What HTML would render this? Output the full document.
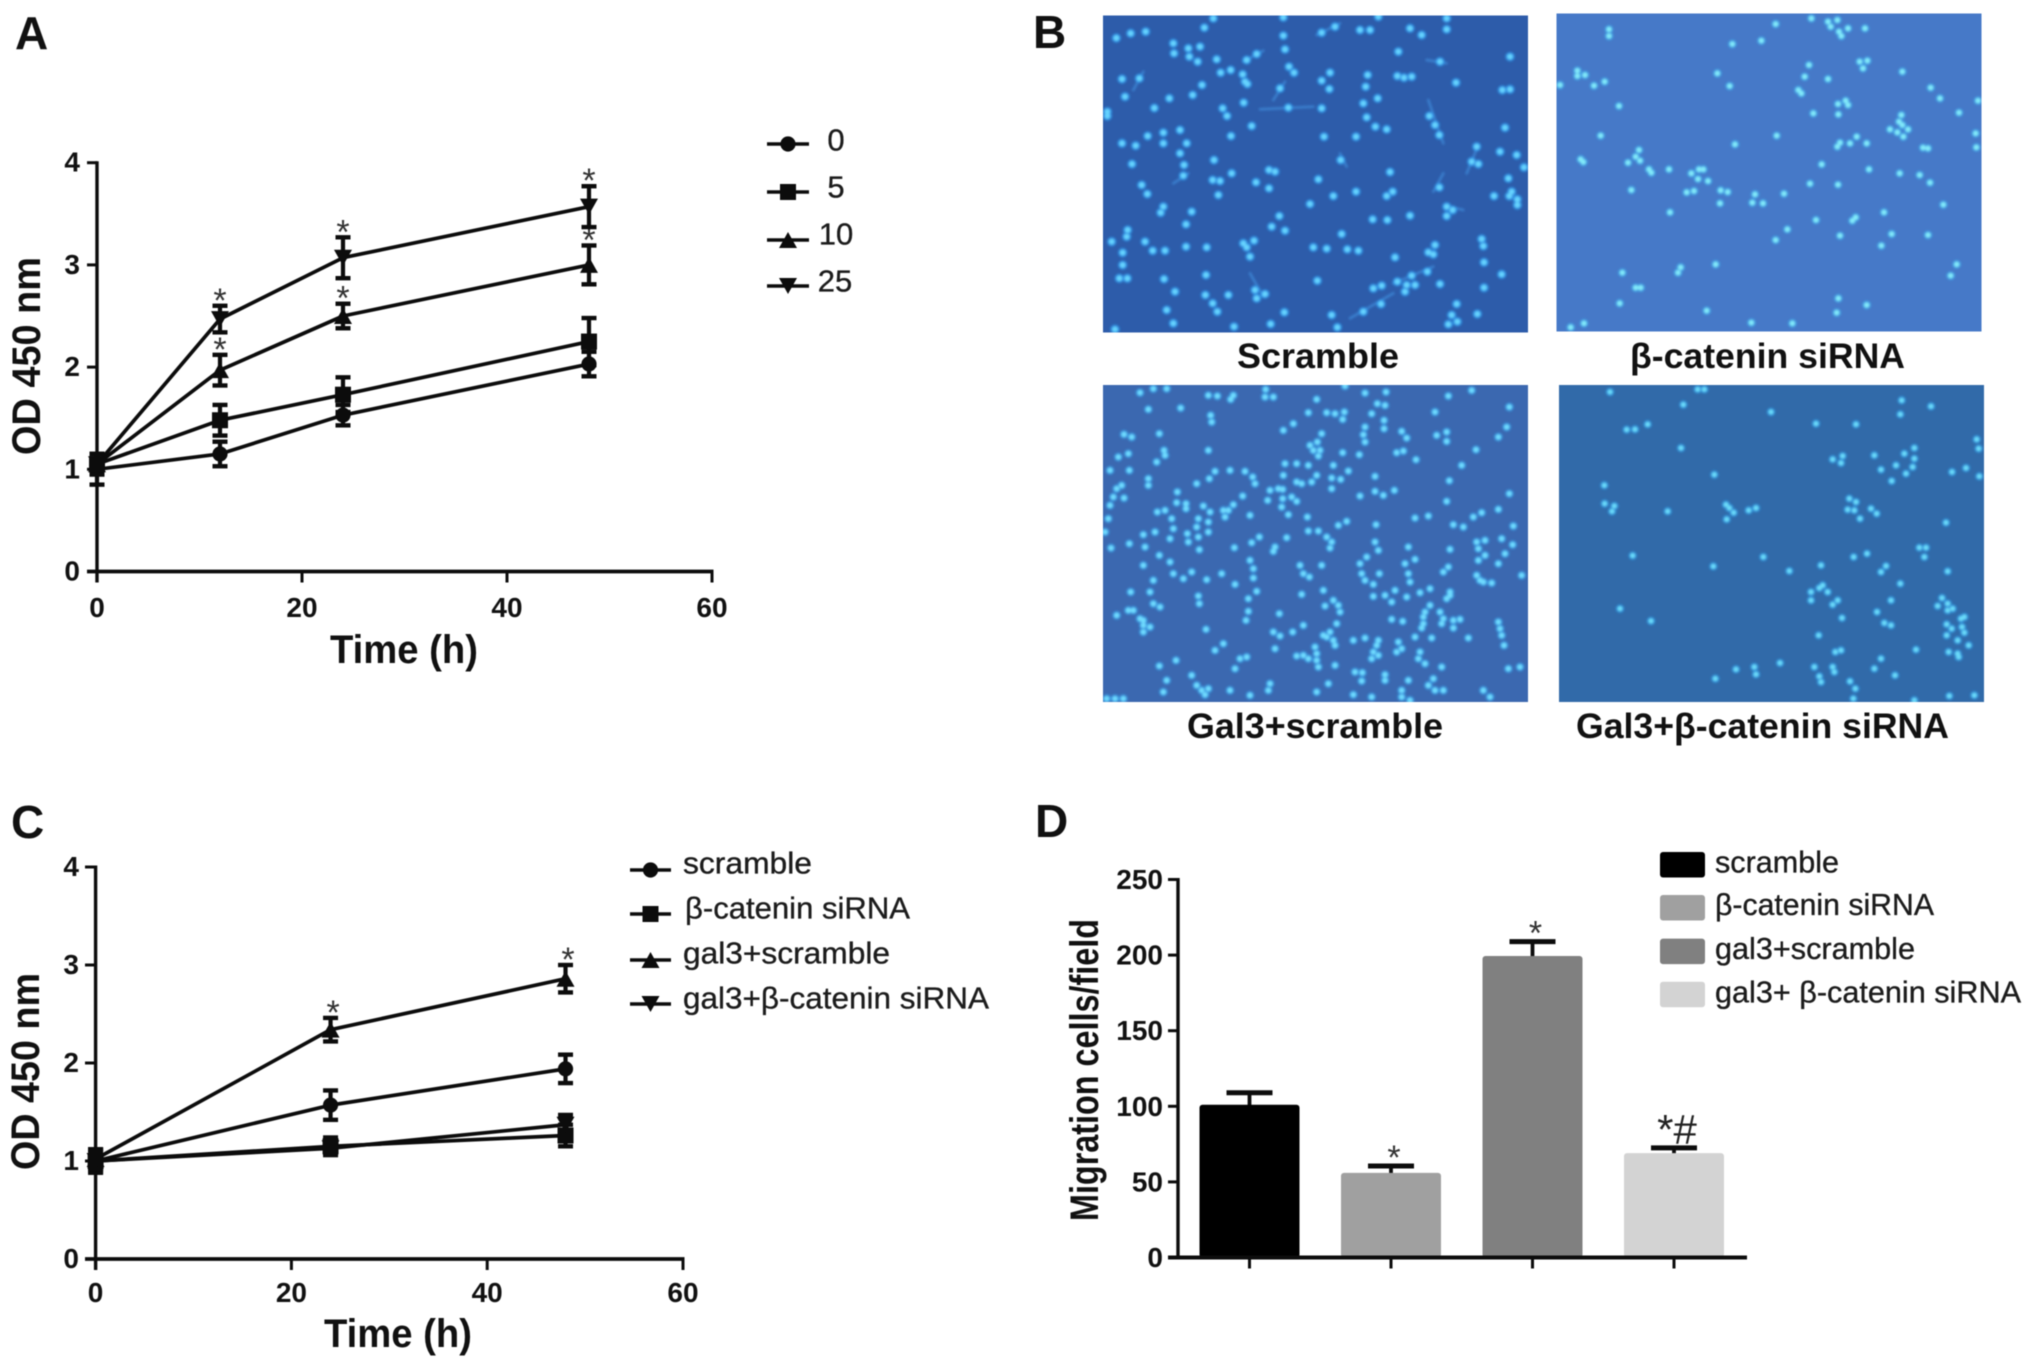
<!DOCTYPE html>
<html lang="en">
<head>
<meta charset="utf-8">
<title>Cell proliferation and migration figure</title>
<style>
html,body{margin:0;padding:0;background:#fff}
svg{display:block;filter:blur(0.6px)}
text{font-family:"Liberation Sans",sans-serif;fill:#111}
.b{font-weight:700}
.lg{font-size:31px;fill:#1c1c1c;stroke:#1c1c1c;stroke-width:.35px}
.cap{font-weight:700;font-size:35px}
.ttl{font-weight:700;font-size:40px}
.pl{font-weight:700;font-size:46px}
.tick{font-weight:700;font-size:28px}
.star{font-size:34px;fill:#333}
</style>
</head>
<body>
<svg id="fig" xmlns="http://www.w3.org/2000/svg" width="2031" height="1368" viewBox="0 0 2031 1368">
<defs>
<path id="d1" fill="none" stroke-linecap="round" d="M49 84h.1M92 70h.1M137 65h.1M313 53h.1M340 25h.1M550 22h.1M550 77h.1M555 118h.1M567 170h.1M582 188h.1M705 50h.1M665 68h.1M780 60h.1M810 60h.1M835 20h.1M1040 25h.1M1040 58h.1M965 75h.1M930 55h.1M220 100h.1M222 130h.1M265 115h.1M300 110h.1M268 140h.1M293 155h.1M350 148h.1M440 150h.1M470 132h.1M362 188h.1M392 180h.1M428 193h.1M435 215h.1M442 222h.1M66 207h.1M118 205h.1M75 260h.1M208 265h.1M278 255h.1M306 225h.1M163 294h.1M22 305h.1M22 318h.1M368 295h.1M381 318h.1M431 278h.1M540 235h.1M565 293h.1M665 295h.1M690 188h.1M665 212h.1M688 237h.1M803 195h.1M797 230h.1M790 280h.1M833 265h.1M895 125h.1M1020 155h.1M892 198h.1M912 203h.1M935 200h.1M1068 218h.1M1230 140h.1M1207 240h.1M1230 238h.1M988 318h.1M1005 345h.1M1018 375h.1M455 348h.1M393 378h.1M800 322h.1M826 350h.1M860 358h.1M1215 353h.1M672 380h.1M768 380h.1M143 378h.1M190 368h.1M190 400h.1M240 360h.1M260 400h.1M240 430h.1M252 465h.1M250 497h.1M66 400h.1M107 407h.1M96 462h.1M342 450h.1M338 510h.1M360 513h.1M395 490h.1M468 517h.1M507 480h.1M525 485h.1M507 535h.1M722 450h.1M655 508h.1M870 486h.1M1130 410h.1M1115 455h.1M1135 462h.1M1200 425h.1M1250 435h.1M1272 472h.1M1225 505h.1M1018 532h.1M125 525h.1M142 552h.1M355 555h.1M700 558h.1M768 545h.1M860 558h.1M878 545h.1M630 582h.1M1182 558h.1M1235 545h.1M1228 558h.1M1252 568h.1M1252 585h.1M1040 590h.1M1058 600h.1M1040 618h.1M930 617h.1M818 628h.1M862 630h.1M190 590h.1M182 608h.1M275 605h.1M258 643h.1M538 618h.1M515 650h.1M555 662h.1M83 660h.1M80 680h.1M35 695h.1M135 695h.1M158 722h.1M195 722h.1M68 728h.1M68 765h.1M258 710h.1M320 712h.1M430 700h.1M462 692h.1M440 712h.1M450 740h.1M640 712h.1M680 716h.1M725 672h.1M742 718h.1M775 722h.1M1005 705h.1M985 727h.1M1000 733h.1M885 742h.1M1145 687h.1M1150 708h.1M1152 757h.1M1205 793h.1M58 805h.1M82 805h.1M192 807h.1M318 795h.1M652 812h.1M225 845h.1M316 855h.1M338 880h.1M352 905h.1M385 855h.1M465 840h.1M470 865h.1M495 852h.1M982 785h.1M935 797h.1M892 815h.1M920 825h.1M945 825h.1M915 845h.1M845 827h.1M820 835h.1M1020 822h.1M1152 833h.1M200 900h.1M220 940h.1M512 942h.1M553 907h.1M695 915h.1M712 952h.1M790 905h.1M843 882h.1M1070 882h.1M1055 915h.1M1045 943h.1M1072 935h.1M1132 912h.1M402 950h.1M45 958h.1"/>
<path id="d2" fill="none" stroke-linecap="round" d="M165 58h.1M165 78h.1M665 42h.1M535 102h.1M622 92h.1M772 25h.1M822 35h.1M850 30h.1M830 50h.1M855 65h.1M862 78h.1M882 55h.1M933 55h.1M70 182h.1M70 198h.1M93 195h.1M18 225h.1M120 227h.1M152 215h.1M490 190h.1M527 228h.1M940 152h.1M917 155h.1M927 175h.1M765 165h.1M752 200h.1M822 207h.1M1045 185h.1M195 288h.1M733 240h.1M742 250h.1M852 282h.1M875 272h.1M882 285h.1M853 313h.1M778 310h.1M1130 233h.1M1158 265h.1M1215 308h.1M1272 272h.1M1042 315h.1M1035 335h.1M1045 345h.1M1008 358h.1M1030 367h.1M1062 358h.1M1048 380h.1M1265 370h.1M1267 412h.1M140 377h.1M668 377h.1M543 403h.1M908 380h.1M888 400h.1M858 398h.1M850 410h.1M938 400h.1M1107 413h.1M1122 415h.1M80 448h.1M88 456h.1M255 420h.1M245 440h.1M258 452h.1M222 458h.1M285 478h.1M292 488h.1M345 478h.1M412 490h.1M435 478h.1M448 478h.1M432 507h.1M462 513h.1M803 463h.1M945 478h.1M1037 490h.1M1097 495h.1M1128 518h.1M768 521h.1M852 524h.1M232 540h.1M420 543h.1M398 547h.1M500 541h.1M521 546h.1M498 580h.1M603 553h.1M595 578h.1M627 580h.1M690 551h.1M1168 584h.1M348 607h.1M990 607h.1M786 630h.1M905 622h.1M895 632h.1M700 658h.1M858 677h.1M1013 672h.1M1122 675h.1M665 690h.1M982 707h.1M485 763h.1M205 788h.1M380 772h.1M372 788h.1M1208 763h.1M1190 797h.1M245 833h.1M260 833h.1M197 880h.1M853 865h.1M938 885h.1M848 908h.1M458 902h.1M90 940h.1M50 952h.1M592 938h.1M715 940h.1"/>
<path id="d3" fill="none" stroke-linecap="round" d="M160 20h.1M200 20h.1M120 32h.1M325 40h.1M352 42h.1M400 40h.1M392 52h.1M497 22h.1M495 45h.1M520 45h.1M735 12h.1M795 33h.1M858 30h.1M1045 42h.1M1115 25h.1M650 52h.1M145 82h.1M242 78h.1M625 92h.1M680 92h.1M705 95h.1M733 90h.1M728 112h.1M832 65h.1M855 70h.1M815 95h.1M852 115h.1M1005 90h.1M1228 75h.1M332 100h.1M335 120h.1M580 125h.1M550 145h.1M795 135h.1M790 158h.1M852 140h.1M905 148h.1M1010 160h.1M1040 150h.1M1040 178h.1M1220 135h.1M1195 165h.1M72 157h.1M95 165h.1M178 155h.1M920 168h.1M795 180h.1M665 155h.1M630 190h.1M652 180h.1M640 205h.1M660 205h.1M655 222h.1M192 205h.1M195 220h.1M325 205h.1M890 212h.1M910 207h.1M1128 203h.1M778 218h.1M728 212h.1M948 233h.1M55 225h.1M85 215h.1M170 240h.1M555 245h.1M590 245h.1M625 250h.1M700 250h.1M745 267h.1M1085 250h.1M30 265h.1M88 265h.1M345 268h.1M390 265h.1M435 268h.1M458 285h.1M465 305h.1M550 280h.1M590 300h.1M605 305h.1M650 280h.1M635 300h.1M695 288h.1M722 292h.1M825 283h.1M1048 296h.1M328 290h.1M290 305h.1M145 290h.1M145 310h.1M65 310h.1M50 320h.1M40 345h.1M72 348h.1M30 370h.1M232 330h.1M510 325h.1M535 320h.1M548 322h.1M503 355h.1M548 350h.1M575 345h.1M590 358h.1M695 320h.1M825 328h.1M850 340h.1M883 325h.1M780 342h.1M428 342h.1M230 362h.1M258 365h.1M258 380h.1M310 372h.1M400 368h.1M385 385h.1M370 385h.1M375 405h.1M172 390h.1M195 385h.1M1040 358h.1M1228 335h.1M1195 382h.1M25 410h.1M545 375h.1M565 398h.1M622 405h.1M450 400h.1M330 390h.1M295 410h.1M215 410h.1M290 435h.1M325 420h.1M325 450h.1M220 440h.1M165 450h.1M130 458h.1M262 455h.1M265 480h.1M295 465h.1M210 470h.1M945 408h.1M985 402h.1M1145 392h.1M1120 405h.1M828 428h.1M740 418h.1M715 430h.1M625 447h.1M655 447h.1M1060 428h.1M1090 435h.1M1240 432h.1M15 450h.1M560 467h.1M478 465h.1M455 482h.1M680 465h.1M695 480h.1M690 498h.1M88 485h.1M135 495h.1M298 503h.1M403 497h.1M33 498h.1M525 495h.1M520 508h.1M825 480h.1M835 505h.1M1130 480h.1M1155 475h.1M1205 470h.1M1238 488h.1M1135 500h.1M1155 520h.1M1215 515h.1M1050 502h.1M925 495h.1M178 520h.1M450 535h.1M130 550h.1M210 540h.1M800 525h.1M780 545h.1M915 545h.1M945 532h.1M1135 535h.1M1045 555h.1M1030 570h.1M600 550h.1M665 550h.1M1195 545h.1M785 575h.1M838 575h.1M925 575h.1M460 560h.1M365 575h.1M275 570h.1M220 575h.1M250 590h.1M320 593h.1M610 575h.1M628 585h.1M1265 580h.1M1130 580h.1M1140 595h.1M160 595h.1M460 588h.1M405 607h.1M795 595h.1M820 607h.1M1150 600h.1M1175 603h.1M930 600h.1M92 630h.1M470 628h.1M150 630h.1M885 625h.1M990 620h.1M1050 630h.1M605 637h.1M670 625h.1M295 642h.1M298 665h.1M820 643h.1M855 640h.1M920 645h.1M960 632h.1M1040 650h.1M1050 640h.1M445 650h.1M675 672h.1M875 660h.1M700 655h.1M715 670h.1M160 665h.1M180 675h.1M720 690h.1M990 670h.1M975 690h.1M1020 690h.1M100 685h.1M85 685h.1M50 700h.1M445 688h.1M538 695h.1M130 715h.1M120 710h.1M130 730h.1M150 735h.1M130 750h.1M875 712h.1M908 718h.1M970 705h.1M970 725h.1M1030 710h.1M1060 715h.1M1080 712h.1M1025 725h.1M1060 738h.1M1195 720h.1M1200 740h.1M965 738h.1M710 725h.1M438 715h.1M318 742h.1M610 730h.1M578 750h.1M520 750h.1M540 762h.1M690 750h.1M680 765h.1M670 760h.1M1105 768h.1M945 765h.1M995 768h.1M1205 760h.1M760 775h.1M795 768h.1M835 775h.1M895 780h.1M700 775h.1M705 790h.1M370 785h.1M345 805h.1M525 800h.1M645 795h.1M830 790h.1M905 800h.1M1212 790h.1M960 810h.1M820 810h.1M835 820h.1M815 830h.1M590 822h.1M610 820h.1M625 830h.1M650 815h.1M650 835h.1M440 825h.1M420 830h.1M228 835h.1M890 810h.1M955 830h.1M975 845h.1M1025 855h.1M178 852h.1M655 855h.1M405 860h.1M705 850h.1M765 870h.1M787 872h.1M855 878h.1M275 880h.1M1225 860h.1M1260 855h.1M200 895h.1M785 897h.1M925 895h.1M855 895h.1M290 910h.1M325 920h.1M305 925h.1M315 938h.1M190 930h.1M390 925h.1M510 905h.1M505 925h.1M685 905h.1M1000 890h.1M985 910h.1M1005 925h.1M1030 925h.1M905 925h.1M905 945h.1M650 930h.1M450 940h.1M20 950h.1M45 950h.1M70 950h.1M760 938h.1M815 945h.1M930 955h.1M1170 945h.1M1150 925h.1"/>
<path id="d4" fill="none" stroke-linecap="round" d="M162 30h.1M425 22h.1M445 22h.1M1037 55h.1M1125 73h.1M382 68h.1M645 90h.1M1033 97h.1M275 127h.1M237 142h.1M212 143h.1M780 125h.1M900 127h.1M1075 198h.1M1262 172h.1M1268 200h.1M375 198h.1M830 232h.1M860 222h.1M855 243h.1M955 220h.1M1045 215h.1M1075 230h.1M1020 250h.1M1070 255h.1M1050 275h.1M975 263h.1M1188 270h.1M1230 258h.1M1270 283h.1M1007 297h.1M475 278h.1M145 310h.1M146 365h.1M175 372h.1M168 388h.1M880 350h.1M900 360h.1M510 368h.1M520 378h.1M533 392h.1M512 412h.1M578 385h.1M600 378h.1M335 388h.1M875 383h.1M895 385h.1M945 380h.1M962 395h.1M912 410h.1M1170 422h.1M1090 497h.1M1110 497h.1M1105 525h.1M230 521h.1M622 525h.1M893 525h.1M933 515h.1M472 553h.1M795 550h.1M990 552h.1M975 570h.1M1175 568h.1M700 567h.1M1033 605h.1M800 610h.1M790 618h.1M765 630h.1M815 630h.1M765 655h.1M845 655h.1M830 668h.1M1005 655h.1M1158 648h.1M1145 672h.1M1175 665h.1M1190 680h.1M1175 685h.1M192 680h.1M285 717h.1M963 690h.1M858 708h.1M985 723h.1M1005 730h.1M1215 710h.1M1225 705h.1M1172 727h.1M1187 740h.1M1218 735h.1M1225 752h.1M1172 760h.1M1205 775h.1M1238 790h.1M788 760h.1M1080 803h.1M838 810h.1M855 805h.1M1178 810h.1M1205 815h.1M1208 825h.1M975 830h.1M775 855h.1M830 855h.1M835 870h.1M955 860h.1M595 855h.1M672 843h.1M540 862h.1M600 877h.1M1017 880h.1M790 883h.1M795 900h.1M478 890h.1M882 898h.1M898 920h.1M892 950h.1M1180 942h.1M1075 955h.1M1255 940h.1"/>
<filter id="soft" x="-5%" y="-5%" width="110%" height="110%"><feGaussianBlur stdDeviation="3"/></filter>
<clipPath id="c1"><rect x="1103" y="15.5" width="425" height="317"/></clipPath>
<clipPath id="c2"><rect x="1556.5" y="13.5" width="425" height="318"/></clipPath>
<clipPath id="c3"><rect x="1103" y="385" width="425" height="317"/></clipPath>
<clipPath id="c4"><rect x="1559" y="385" width="425" height="317"/></clipPath>
</defs>

<!-- Panel labels -->
<text class="pl" x="15" y="49">A</text>
<text class="pl" x="1033" y="48">B</text>
<text class="pl" x="11" y="838">C</text>
<text class="pl" x="1035" y="837">D</text>

<!-- Panel B micrographs -->
<g clip-path="url(#c1)">
<rect x="1103" y="15.5" width="425" height="317" fill="#2d5caa"/>
<g transform="translate(1100,10) scale(.33333)" filter="url(#soft)">
<path fill="none" stroke="#3f8ad8" stroke-width="8" stroke-linecap="round" opacity=".75" d="M985 270L1030 400M720 430L740 470M520 270L555 215M480 298L640 290M1000 545L1030 490M750 925L880 850M1090 600L1050 590M1135 405L1100 490M430 155L490 122M100 240L130 185M650 75L720 40M980 150L1040 160M220 520L265 490M450 790L490 860M880 820L1000 770"/>
<use href="#d1" stroke="#2f9cf0" stroke-width="28" opacity=".8"/>
<use href="#d1" stroke="#66d4ff" stroke-width="17"/>
</g>
</g>
<g clip-path="url(#c2)">
<rect x="1556.5" y="13.5" width="425" height="318" fill="#4679c8"/>
<g transform="translate(1554,10) scale(.33333)" filter="url(#soft)">
<use href="#d2" stroke="#3fa6ea" stroke-width="26" opacity=".8"/>
<use href="#d2" stroke="#82eafa" stroke-width="16"/>
</g>
</g>
<g clip-path="url(#c3)">
<rect x="1103" y="385" width="425" height="317" fill="#3b68b0"/>
<g transform="translate(1100,382) scale(.33333)" filter="url(#soft)">
<use href="#d3" stroke="#3aa0ea" stroke-width="26" opacity=".8"/>
<use href="#d3" stroke="#70dcff" stroke-width="16"/>
</g>
</g>
<g clip-path="url(#c4)">
<rect x="1559" y="385" width="425" height="317" fill="#316aa9"/>
<g transform="translate(1556,382) scale(.33333)" filter="url(#soft)">
<use href="#d4" stroke="#2f9ce6" stroke-width="25" opacity=".8"/>
<use href="#d4" stroke="#6cdcfa" stroke-width="15"/>
</g>
</g>
<text class="cap" x="1237" y="368" textLength="162" lengthAdjust="spacingAndGlyphs">Scramble</text>
<text class="cap" x="1630" y="368" textLength="275" lengthAdjust="spacingAndGlyphs">β-catenin siRNA</text>
<text class="cap" x="1187" y="738" textLength="256" lengthAdjust="spacingAndGlyphs">Gal3+scramble</text>
<text class="cap" x="1576" y="738" textLength="373" lengthAdjust="spacingAndGlyphs">Gal3+β-catenin siRNA</text>

<!-- Panel A static text -->
<text class="ttl" transform="translate(40,455) rotate(-90)" textLength="198" lengthAdjust="spacingAndGlyphs">OD 450 nm</text>
<text class="ttl" x="330" y="663" textLength="148" lengthAdjust="spacingAndGlyphs">Time (h)</text>
<text class="lg" x="836" y="150.5" text-anchor="middle">0</text>
<text class="lg" x="836" y="197.5" text-anchor="middle">5</text>
<text class="lg" x="836" y="244.5" text-anchor="middle">10</text>
<text class="lg" x="835" y="291.5" text-anchor="middle">25</text>

<!-- Panel C static text -->
<text class="ttl" transform="translate(39,1170) rotate(-90)" textLength="197" lengthAdjust="spacingAndGlyphs">OD 450 nm</text>
<text class="ttl" x="324" y="1347" textLength="148" lengthAdjust="spacingAndGlyphs">Time (h)</text>
<text class="lg" x="683" y="873.7" textLength="129" lengthAdjust="spacingAndGlyphs">scramble</text>
<text class="lg" x="685" y="918.7" textLength="225" lengthAdjust="spacingAndGlyphs">β-catenin siRNA</text>
<text class="lg" x="683" y="963.7" textLength="207" lengthAdjust="spacingAndGlyphs">gal3+scramble</text>
<text class="lg" x="683" y="1008.7" textLength="306" lengthAdjust="spacingAndGlyphs">gal3+β-catenin siRNA</text>

<!-- Panel D static text -->
<text class="ttl" transform="translate(1098,1221) rotate(-90)" textLength="302" lengthAdjust="spacingAndGlyphs">Migration cells/field</text>
<rect x="1660" y="852" width="45" height="25.5" rx="3" fill="#000"/>
<rect x="1660" y="895" width="45" height="25.5" rx="3" fill="#a0a0a0"/>
<rect x="1660" y="938.6" width="45" height="25.5" rx="3" fill="#808080"/>
<rect x="1660" y="981.7" width="45" height="25.5" rx="3" fill="#d3d3d3"/>
<text class="lg" x="1715" y="872.6" textLength="124" lengthAdjust="spacingAndGlyphs">scramble</text>
<text class="lg" x="1715" y="915" textLength="219" lengthAdjust="spacingAndGlyphs">β-catenin siRNA</text>
<text class="lg" x="1715" y="959" textLength="200" lengthAdjust="spacingAndGlyphs">gal3+scramble</text>
<text class="lg" x="1715" y="1002.4" textLength="306" lengthAdjust="spacingAndGlyphs">gal3+ β-catenin siRNA</text>
</svg>

<script>
// ---- Panel A data ----
const timesA = [0, 12, 24, 48];
const valuesA0 = [1.0, 1.15, 1.53, 2.03];
const valuesA5 = [1.05, 1.48, 1.73, 2.25];
const valuesA10 = [1.05, 1.97, 2.5, 3.0];
const valuesA25 = [1.05, 2.47, 3.07, 3.57];
const errorsA0 = [0.15, 0.12, 0.1, 0.12];
const errorsA5 = [0.1, 0.15, 0.17, 0.23];
const errorsA10 = [0.1, 0.15, 0.12, 0.19];
const errorsA25 = [0.1, 0.13, 0.2, 0.2];
const starsA10 = [0, 1, 1, 1];
const starsA25 = [0, 1, 1, 1];
// ---- Panel C data ----
const timesC = [0, 24, 48];
const valuesCScramble = [1.0, 1.57, 1.94];
const valuesCBeta = [1.0, 1.15, 1.26];
const valuesCGal3 = [1.02, 2.34, 2.86];
const valuesCGal3Beta = [1.0, 1.13, 1.37];
const errorsCScramble = [0.12, 0.15, 0.145];
const errorsCBeta = [0.11, 0.09, 0.11];
const errorsCGal3 = [0.1, 0.12, 0.14];
const errorsCGal3Beta = [0.08, 0.06, 0.1];
const starsCGal3 = [0, 1, 1];
// ---- Panel D data ----
const barCategories = ['scramble', 'beta-catenin-sirna', 'gal3-scramble', 'gal3-beta-catenin-sirna'];
const barValues = [101, 56, 199.4, 69];
const barErrors = [8, 4.5, 9.5, 3.5];
const barLabels = ['', '*', '*', '*#'];
// ---- Tick labels ----
const lineXTicks = [0, 20, 40, 60];
const lineYTicks = [0, 1, 2, 3, 4];
const barYTicks = [0, 50, 100, 150, 200, 250];

const NS = 'http://www.w3.org/2000/svg';
const fig = document.getElementById('fig');
const INK = '#0c0c0c';

function mk(tag, attrs, parent) {
  const el = document.createElementNS(NS, tag);
  for (const k in attrs) el.setAttribute(k, attrs[k]);
  (parent || fig).appendChild(el);
  return el;
}
function seg(x1, y1, x2, y2, w, parent) {
  return mk('line', { x1: x1, y1: y1, x2: x2, y2: y2, stroke: INK, 'stroke-width': w }, parent);
}
function marker(shape, cx, cy, s, parent) {
  let el;
  if (shape === 'circle') el = mk('circle', { cx: cx, cy: cy, r: s * 0.95, fill: INK }, parent);
  else if (shape === 'square') el = mk('rect', { x: cx - s, y: cy - s, width: 2 * s, height: 2 * s, fill: INK }, parent);
  else if (shape === 'up') el = mk('polygon', { points: [cx - s - 1, cy + s, cx + s + 1, cy + s, cx, cy - s].join(' '), fill: INK }, parent);
  else el = mk('polygon', { points: [cx - s - 1, cy - s, cx + s + 1, cy - s, cx, cy + s].join(' '), fill: INK }, parent);
  return el;
}

function lineAxes(prefix, g, xf, yf, tickLeft, labelRight, xLabelBase) {
  const axes = mk('g', {}, g);
  
  
  const yTop = yf(lineYTicks[lineYTicks.length - 1]);
  const yBot = yf(0);
  seg(xf(0), yTop - 1.5, xf(0), yBot + 11, 3.4, axes);
  seg(tickLeft, yBot, xf(lineXTicks[lineXTicks.length - 1]) + 1.5, yBot, 3.8, axes);
  lineYTicks.forEach(function (v) {
    seg(tickLeft, yf(v), xf(0), yf(v), 3, axes);
    const t = mk('text', { class: 'tick', x: labelRight, y: yf(v) + 9, 'text-anchor': 'end' }, axes);
    
    
    t.textContent = v;
  });
  lineXTicks.forEach(function (v) {
    seg(xf(v), yBot, xf(v), yBot + 11, 3, axes);
    const t = mk('text', { class: 'tick', x: xf(v), y: xLabelBase, 'text-anchor': 'middle' }, axes);
    
    
    t.textContent = v;
  });
}

function drawSeries(name, g, times, vals, errs, shape, stars, xf, yf, starDx, size) {
  const s = mk('g', {}, g);
  
  
  const pts = times.map(function (t, i) { return xf(t) + ',' + yf(vals[i]); }).join(' ');
  const line = mk('polyline', { points: pts, fill: 'none', stroke: INK, 'stroke-width': 3.7, 'stroke-linejoin': 'round' }, s);
  
  
  times.forEach(function (t, i) {
    const x = xf(t), hi = yf(vals[i] + errs[i]), lo = yf(vals[i] - errs[i]);
    const bar = mk('g', {}, s);
    
    
    seg(x, hi, x, lo, 4.2, bar);
    seg(x - 7.5, hi, x + 7.5, hi, 4.4, bar);
    seg(x - 7.5, lo, x + 7.5, lo, 4.4, bar);
    const m = marker(shape, x, yf(vals[i]), size, s);
    
    
    if (stars && stars[i]) {
      const st = mk('text', { class: 'star', x: x + starDx, y: hi + 6, 'text-anchor': 'middle' }, s);
      
      
      st.textContent = '*';
    }
  });
}

function legendKey(name, shape, x1, x2, y, size) {
  const g = mk('g', {});
  
  
  seg(x1, y, x2, y, 3.6, g);
  marker(shape, (x1 + x2) / 2, y, size, g);
}

// Panel A
const xA = function (t) { return 97 + t * 10.25; };
const yA = function (v) { return 571.5 - v * 102.2; };
const panelA = mk('g', {});


lineAxes('panel-a', panelA, xA, yA, 87, 80, 617);
drawSeries('series-a-0', panelA, timesA, valuesA0, errorsA0, 'circle', null, xA, yA, 0, 8);
drawSeries('series-a-5', panelA, timesA, valuesA5, errorsA5, 'square', null, xA, yA, 0, 8);
drawSeries('series-a-10', panelA, timesA, valuesA10, errorsA10, 'up', starsA10, xA, yA, 0, 8);
drawSeries('series-a-25', panelA, timesA, valuesA25, errorsA25, 'down', starsA25, xA, yA, 0, 8);
legendKey('panel-a-legend-key-0', 'circle', 767, 809, 144, 8);
legendKey('panel-a-legend-key-5', 'square', 767, 809, 192, 8);
legendKey('panel-a-legend-key-10', 'up', 767, 809, 240, 8);
legendKey('panel-a-legend-key-25', 'down', 767, 809, 286, 8);

// Panel C
const xC = function (t) { return 95.6 + t * 9.79; };
const yC = function (v) { return 1259 - v * 98; };
const panelC = mk('g', {});


lineAxes('panel-c', panelC, xC, yC, 85, 79, 1302);
drawSeries('series-c-scramble', panelC, timesC, valuesCScramble, errorsCScramble, 'circle', null, xC, yC, 0, 8);
drawSeries('series-c-beta-catenin', panelC, timesC, valuesCBeta, errorsCBeta, 'square', null, xC, yC, 0, 8);
drawSeries('series-c-gal3-scramble', panelC, timesC, valuesCGal3, errorsCGal3, 'up', starsCGal3, xC, yC, 2.5, 8);
drawSeries('series-c-gal3-beta-catenin', panelC, timesC, valuesCGal3Beta, errorsCGal3Beta, 'down', null, xC, yC, 0, 8);
legendKey('panel-c-legend-key-scramble', 'circle', 630, 671, 870, 8);
legendKey('panel-c-legend-key-beta-catenin', 'square', 630, 671, 914, 8);
legendKey('panel-c-legend-key-gal3-scramble', 'up', 630, 671, 960, 8);
legendKey('panel-c-legend-key-gal3-beta-catenin', 'down', 630, 671, 1004, 8);

// Panel D
const barColors = ['#000000', '#a0a0a0', '#808080', '#d3d3d3'];
const xD = function (i) { return 1249.5 + i * 141.5; };
const yD = function (v) { return 1257.5 - v * 1.512; };
const panelD = mk('g', {});


barValues.forEach(function (v, i) {
  const x = xD(i), top = yD(v), capY = yD(v + barErrors[i]);
  const eb = mk('g', {}, panelD);
  
  
  seg(x, capY, x, top + 3, 3.8, eb);
  seg(x - 23, capY, x + 23, capY, 5, eb);
  const b = mk('rect', { x: x - 50, y: top, width: 100, height: yD(0) - top, rx: 3, fill: barColors[i] }, panelD);
  
  
  if (barLabels[i]) {
    const isPair = barLabels[i] === '*#';
    const t = mk('text', { class: 'star', x: x + 3, y: capY + (isPair ? -4 : 3), 'text-anchor': 'middle' }, panelD);
    
    
    t.textContent = barLabels[i];
    if (isPair) t.setAttribute('style', 'font-size:42px;fill:#222');
  }
});
const axesD = mk('g', {}, panelD);


seg(1178, yD(250) - 1.5, 1178, yD(0), 3.4, axesD);
seg(1168, yD(0), 1747, yD(0), 4, axesD);
barYTicks.forEach(function (v) {
  seg(1168, yD(v), 1178, yD(v), 3, axesD);
  const t = mk('text', { class: 'tick', x: 1163, y: yD(v) + 9.5, 'text-anchor': 'end' }, axesD);
  
  
  t.textContent = v;
});
barValues.forEach(function (v, i) {
  seg(xD(i), yD(0), xD(i), yD(0) + 11, 3, axesD);
});
</script>
</body>
</html>
